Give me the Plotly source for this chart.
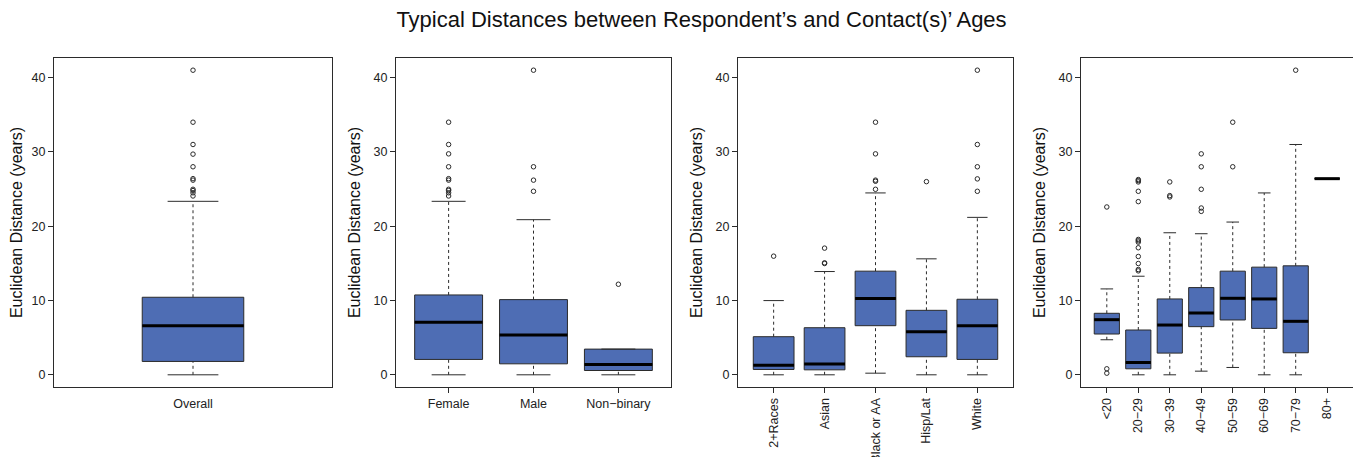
import plotly.graph_objects as go

# ---------------- data ----------------
title_text = "Typical Distances between Respondent\u2019s and Contact(s)\u2019 Ages"
y_title = "Euclidean Distance (years)"
y_ticks = [0, 10, 20, 30, 40]

overall_cats = ["Overall"]
overall_q1 = [1.8]
overall_med = [6.61]
overall_q3 = [10.44]
overall_lo = [0.0]
overall_hi = [23.35]
overall_out = [[41.0, 34.0, 31.0, 29.7, 28.0, 26.4, 26.2, 24.97, 24.8, 24.5, 24.07]]

gender_cats = ["Female", "Male", "Non\u2212binary"]
gender_q1 = [2.07, 1.48, 0.58]
gender_med = [7.06, 5.35, 1.39]
gender_q3 = [10.75, 10.12, 3.46]
gender_lo = [0.0, 0.0, 0.0]
gender_hi = [23.35, 20.88, 3.46]
gender_out = [
    [34.0, 31.0, 29.74, 28.0, 26.4, 26.2, 24.97, 24.8, 24.5, 24.07],
    [41.0, 28.0, 26.2, 24.7],
    [12.19],
]

race_cats = ["2+Races", "Asian", "Black or AA", "Hisp/Lat", "White"]
race_q1 = [0.72, 0.67, 6.61, 2.43, 2.07]
race_med = [1.3, 1.44, 10.26, 5.8, 6.61]
race_q3 = [5.13, 6.34, 13.95, 8.68, 10.17]
race_lo = [0.0, 0.0, 0.22, 0.0, 0.0]
race_hi = [9.99, 13.9, 24.48, 15.61, 21.19]
race_out = [
    [15.97],
    [17.05, 15.07, 14.98],
    [34.0, 29.74, 26.2, 26.05, 24.97],
    [26.0],
    [41.0, 31.0, 28.0, 26.37, 24.7],
]

age_cats = ["<20", "20\u221229", "30\u221239", "40\u221249", "50\u221259", "60\u221269", "70\u221279", "80+"]
age_q1 = [5.49, 0.81, 2.92, 6.48, 7.38, 6.25, 2.97, 26.4]
age_med = [7.42, 1.66, 6.7, 8.32, 10.3, 10.21, 7.2, 26.4]
age_q3 = [8.28, 6.03, 10.21, 11.74, 13.95, 14.49, 14.67, 26.4]
age_lo = [4.72, 0.0, 0.0, 0.49, 0.99, 0.0, 0.0, 26.4]
age_hi = [11.56, 13.27, 19.12, 18.99, 20.56, 24.48, 31.0, 26.4]
age_out = [
    [22.59, 0.81, 0.22],
    [26.28, 26.14, 25.96, 24.7, 23.31, 18.22, 18.04, 17.86, 17.1, 15.93, 14.98, 14.17, 13.99],
    [25.96, 24.12, 23.94],
    [29.74, 28.0, 24.97, 22.45, 22.0],
    [34.0, 28.0],
    [],
    [41.0],
    [],
]

# ---------------- styling ----------------
FONT = "Liberation Sans, Arial, Helvetica, sans-serif"
BOX_FILL = "#4E6DB4"
EDGE = "#2b2b2b"
PAGE_W, PAGE_H = 1361, 465
OFF = 8  # default page body margin
W, H = PAGE_W - 2 * OFF, PAGE_H - 2 * OFF
frame_top, frame_bot = 58 - OFF, 387 - OFF
panel_px = [(54 - OFF, 332 - OFF), (396 - OFF, 671 - OFF), (738 - OFF, 1013 - OFF), (1081 - OFF, 1355 - OFF)]
title_cx, title_cy = 701.5 - OFF, 19 - OFF

panels = [
    (overall_cats, overall_q1, overall_med, overall_q3, overall_lo, overall_hi, overall_out, 0, (-0.095, 2.095)),
    (gender_cats, gender_q1, gender_med, gender_q3, gender_lo, gender_hi, gender_out, 0, None),
    (race_cats, race_q1, race_med, race_q3, race_lo, race_hi, race_out, -90, None),
    (age_cats, age_q1, age_med, age_q3, age_lo, age_hi, age_out, -90, None),
]

fig = go.Figure()
layout_axes = {}
ydom = [(H - frame_bot) / H, (H - frame_top) / H]

for k, (cats, q1, med, q3, lo, hi, outs, angle, xr) in enumerate(panels, start=1):
    n = len(cats)
    xs = list(range(1, n + 1))
    xa = "x" if k == 1 else f"x{k}"
    ya = "y" if k == 1 else f"y{k}"
    # box bodies
    fig.add_trace(go.Box(
        x=xs, q1=q1, median=med, q3=q3, lowerfence=q1, upperfence=q3,
        width=0.8, fillcolor=BOX_FILL, line=dict(color=EDGE, width=1),
        boxpoints=False, whiskerwidth=0, xaxis=xa, yaxis=ya, showlegend=False,
        hoverinfo="skip",
    ))
    # dashed whiskers
    wx, wy = [], []
    for i in range(n):
        wx += [xs[i], xs[i], None, xs[i], xs[i], None]
        wy += [q3[i], hi[i], None, lo[i], q1[i], None]
    fig.add_trace(go.Scatter(x=wx, y=wy, mode="lines", line=dict(color=EDGE, width=1, dash="3px,3px"),
                             xaxis=xa, yaxis=ya, showlegend=False, hoverinfo="skip"))
    # staples
    sx, sy = [], []
    for i in range(n):
        sx += [xs[i] - 0.2, xs[i] + 0.2, None, xs[i] - 0.2, xs[i] + 0.2, None]
        sy += [hi[i], hi[i], None, lo[i], lo[i], None]
    fig.add_trace(go.Scatter(x=sx, y=sy, mode="lines", line=dict(color=EDGE, width=1),
                             xaxis=xa, yaxis=ya, showlegend=False, hoverinfo="skip"))
    # medians
    mx, my = [], []
    for i in range(n):
        mx += [xs[i] - 0.4, xs[i] + 0.4, None]
        my += [med[i], med[i], None]
    fig.add_trace(go.Scatter(x=mx, y=my, mode="lines", line=dict(color="black", width=3),
                             xaxis=xa, yaxis=ya, showlegend=False, hoverinfo="skip"))
    # outliers
    ox, oy = [], []
    for i in range(n):
        for v in outs[i]:
            ox.append(xs[i])
            oy.append(v)
    fig.add_trace(go.Scatter(x=ox, y=oy, mode="markers",
                             marker=dict(symbol="circle-open", size=4.5, color=EDGE, line=dict(width=1, color=EDGE)),
                             xaxis=xa, yaxis=ya, showlegend=False, hoverinfo="skip"))

    x0, x1 = panel_px[k - 1]
    if xr is None:
        pad = 0.04 * n
        xr = (0.5 - pad, n + 0.5 + pad)
    xkey = "xaxis" if k == 1 else f"xaxis{k}"
    ykey = "yaxis" if k == 1 else f"yaxis{k}"
    layout_axes[xkey] = dict(
        domain=[max(0.0, x0 / W), min(1.0, x1 / W)], range=list(xr), anchor=ya, automargin=False,
        tickmode="array", tickvals=xs, ticktext=cats, tickangle=angle,
        showline=True, mirror=True, linecolor=EDGE, linewidth=1,
        ticks="outside", ticklen=5, tickcolor=(EDGE if k > 1 else "rgba(0,0,0,0)"),
        showgrid=False, zeroline=False,
        tickfont=dict(family=FONT, size=12.5, color="#222"),
    )
    layout_axes[ykey] = dict(
        domain=ydom, range=[-1.64, 42.64], anchor=xa, automargin=False,
        tickmode="array", tickvals=y_ticks,
        showline=True, mirror=True, linecolor=EDGE, linewidth=1,
        ticks="outside", ticklen=5, tickcolor=EDGE,
        showgrid=False, zeroline=False,
        tickfont=dict(family=FONT, size=12.5, color="#222"),
        title=dict(text=y_title, font=dict(family=FONT, size=16, color="#111"), standoff=8),
    )

fig.update_layout(
    width=W, height=H,
    margin=dict(l=0, r=0, t=0, b=0),
    paper_bgcolor="white", plot_bgcolor="white",
    title=dict(text=title_text, x=title_cx / W, xanchor="center", y=1 - title_cy / H, yanchor="middle",
               font=dict(family=FONT, size=22, color="#111")),
    showlegend=False,
    **layout_axes,
)

fig.write_html("out.html")
